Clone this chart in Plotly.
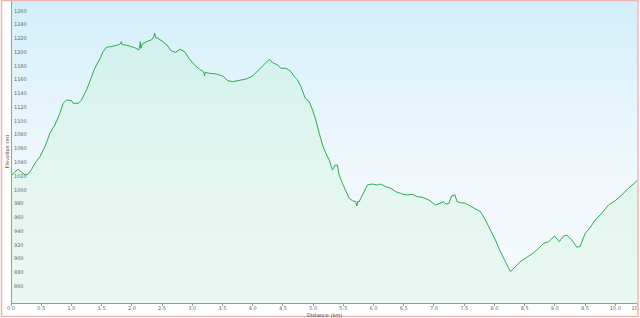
import numpy as np
import plotly.graph_objects as go

# ---- data (distance km, elevation m) ----
distance_km = [
    0.000, 0.066, 0.121, 0.177, 0.231, 0.286, 0.342, 0.396, 0.451, 0.479,
    0.561, 0.644, 0.726, 0.809, 0.863, 0.919, 1.002, 1.028, 1.111, 1.167,
    1.250, 1.304, 1.387, 1.469, 1.524, 1.579, 1.662, 1.745, 1.799, 1.827,
    1.840, 1.882, 1.964, 2.047, 2.118, 2.141, 2.150, 2.174, 2.240, 2.323,
    2.361, 2.377, 2.392, 2.432, 2.514, 2.580, 2.653, 2.724, 2.801, 2.872,
    2.955, 3.037, 3.120, 3.190, 3.202, 3.214, 3.285, 3.395, 3.505, 3.587,
    3.670, 3.780, 3.891, 4.000, 4.110, 4.193, 4.275, 4.330, 4.412, 4.468,
    4.551, 4.634, 4.688, 4.743, 4.798, 4.870, 4.936, 4.990, 5.046, 5.101,
    5.155, 5.211, 5.266, 5.320, 5.365, 5.403, 5.431, 5.485, 5.541, 5.596,
    5.650, 5.706, 5.723, 5.740, 5.761, 5.816, 5.898, 5.981, 6.063, 6.119,
    6.202, 6.284, 6.367, 6.476, 6.558, 6.641, 6.724, 6.806, 6.916, 7.027,
    7.110, 7.164, 7.200, 7.247, 7.291, 7.346, 7.384, 7.440, 7.522, 7.605,
    7.687, 7.770, 7.852, 7.935, 8.017, 8.100, 8.183, 8.265, 8.348, 8.430,
    8.539, 8.650, 8.732, 8.815, 8.897, 8.996, 9.074, 9.145, 9.200, 9.282,
    9.365, 9.421, 9.503, 9.586, 9.668, 9.777, 9.888, 9.998, 10.107, 10.218,
    10.329, 10.358,
]
elevation_m = [
    1024.5, 1030.7, 1034.2, 1029.2, 1025.9, 1027.4, 1034.2, 1042.9, 1048.7, 1052.5,
    1067.0, 1086.5, 1098.5, 1115.5, 1130.0, 1134.8, 1133.8, 1130.0, 1130.0, 1134.8,
    1149.4, 1161.4, 1180.9, 1194.4, 1205.0, 1211.4, 1212.3, 1214.3, 1215.4, 1219.5,
    1215.0, 1215.0, 1213.3, 1210.8, 1207.5, 1219.5, 1210.0, 1216.2, 1219.5, 1222.0,
    1226.3, 1232.0, 1225.5, 1224.4, 1219.5, 1214.7, 1206.0, 1204.1, 1208.5, 1205.0,
    1194.0, 1185.7, 1179.4, 1175.5, 1170.0, 1175.0, 1173.6, 1172.6, 1169.7, 1162.9,
    1161.4, 1162.9, 1165.3, 1169.7, 1179.4, 1186.7, 1194.0, 1189.0, 1185.7, 1180.9,
    1180.9, 1176.0, 1168.7, 1163.9, 1154.2, 1137.3, 1132.4, 1120.3, 1105.8, 1086.5,
    1069.5, 1057.4, 1047.7, 1033.2, 1040.4, 1040.4, 1025.9, 1013.9, 1004.1, 992.1,
    988.6, 987.1, 980.9, 988.0, 987.1, 996.9, 1011.4, 1012.8, 1011.4, 1012.8,
    1008.9, 1006.6, 1001.7, 998.3, 996.9, 997.9, 994.4, 993.5, 989.6, 982.3,
    984.8, 987.1, 983.5, 984.8, 995.4, 996.9, 987.1, 985.7, 984.8, 980.9,
    977.5, 972.6, 960.5, 946.0, 931.5, 914.5, 900.0, 885.5, 892.7, 900.0,
    906.4, 913.1, 919.4, 926.7, 929.0, 937.3, 929.0, 937.3, 938.3, 931.5,
    920.9, 922.8, 941.2, 949.9, 960.5, 970.3, 982.3, 988.6, 996.9, 1006.6,
    1014.7, 1018.0,
]

x_max = 10.36
y_min, y_max = 840, 1280
x_tick_vals = [0.0, 0.5, 1.0, 1.5, 2.0, 2.5, 3.0, 3.5, 4.0, 4.5, 5.0,
               5.5, 6.0, 6.5, 7.0, 7.5, 8.0, 8.5, 9.0, 9.5, 10.0, x_max]
x_tick_text = ["0.0", "0.5", "1.0", "1.5", "2.0", "2.5", "3.0", "3.5", "4.0", "4.5", "5.0",
               "5.5", "6.0", "6.5", "7.0", "7.5", "8.0", "8.5", "9.0", "9.5", "10.0", "10.4"]
y_tick_vals = list(range(860, 1261, 20))

fig = go.Figure()

# background gradient (styling)
grad_y = np.linspace(y_min, y_max, 60)
fig.add_trace(go.Heatmap(
    x=[0, x_max], y=grad_y, z=[[v, v] for v in grad_y],
    colorscale=[[0.0, "#f5f9fe"], [0.4, "#f1f8fd"], [0.7, "#e3f4fb"], [1.0, "#d3eff9"]],
    showscale=False, hoverinfo="skip", zsmooth="best",
))

fig.add_trace(go.Scatter(
    x=distance_km, y=elevation_m, mode="lines",
    line=dict(color="#30ab4b", width=1),
    fill="tozeroy", fillcolor="rgba(180,240,190,0.2)",
    hoverinfo="skip",
))

W, H = 640, 318
ml, mr, mt, mb = 11, 3, 0, 15
pw, ph = W - ml - mr, H - mt - mb

fig.update_layout(
    width=W, height=H,
    margin=dict(l=ml, r=mr, t=mt, b=mb, pad=0),
    paper_bgcolor="white", plot_bgcolor="white",
    showlegend=False,
    font=dict(family="DejaVu Sans", size=5, color="#666666"),
    xaxis=dict(
        range=[0, x_max], tickvals=x_tick_vals, ticktext=x_tick_text,
        showgrid=False, zeroline=False,
        showline=True, linecolor="#9a9a9a", linewidth=1,
        ticks="outside", ticklen=2, tickcolor="#9a9a9a",
        ticklabelstandoff=-2,
        tickfont=dict(size=5, color="#666666"),
        ticklabeloverflow="allow",
        automargin=False,
    ),
    yaxis=dict(
        range=[y_min, y_max], tickvals=y_tick_vals,
        side="right", anchor="free", position=0,
        showgrid=True, gridcolor="#c9dbe3", gridwidth=1, zeroline=False,
        showline=True, linecolor="#9a9a9a", linewidth=1,
        ticks="", ticklabelstandoff=1, ticklabelshift=-3,
        tickfont=dict(size=5, color="#666666"),
        automargin=False,
    ),
    annotations=[
        dict(text="Distance (km)", xref="paper", yref="paper",
             x=0.5, y=(ph - 314.5) / ph, yanchor="middle", xanchor="center",
             showarrow=False, font=dict(size=5, color="#444444")),
        dict(text="Elevation (m)", xref="paper", yref="paper",
             x=(6 - ml) / pw, y=0.5, xanchor="center", yanchor="middle", textangle=-90,
             showarrow=False, font=dict(size=5, color="#444444")),
    ],
    shapes=[dict(
        type="rect", xref="paper", yref="paper",
        x0=(1.5 - ml) / pw, x1=(638 - ml) / pw,
        y0=(ph - 316.5 + mt) / ph, y1=(ph + mt - 0.5) / ph,
        line=dict(color="#f2b3b3", width=1.5), fillcolor="rgba(0,0,0,0)", layer="above",
    )],
)

fig.write_html("out.html")
